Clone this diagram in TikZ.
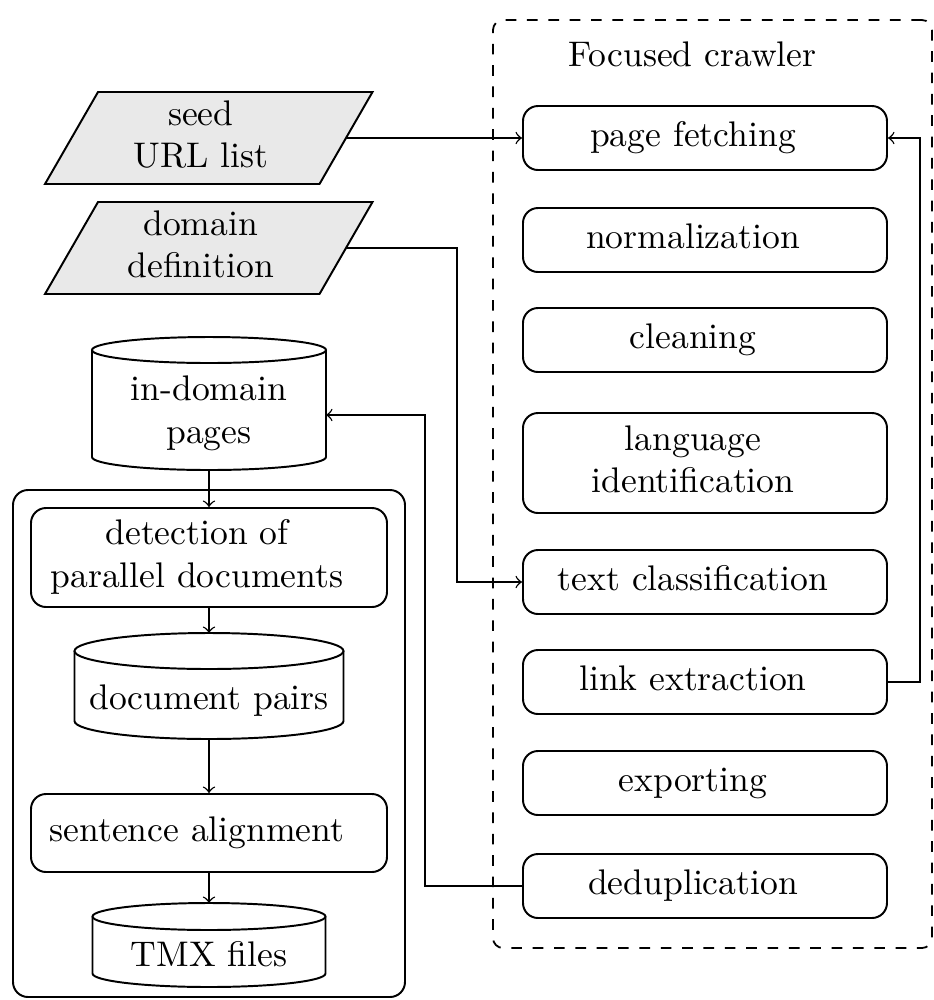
\documentclass[tikz,border=0pt]{standalone}
\usetikzlibrary{backgrounds}
\newdimen\pxu \pxu=0.281pt
\newcommand{\boxtxt}[1]{\begin{tabular}{@{}c@{}}#1\end{tabular}\hspace*{24\pxu}}
\newcommand{\partxt}[1]{\begin{tabular}{@{}c@{}}#1\end{tabular}\hspace*{16\pxu}}
\newcommand{\plaintxt}[1]{\begin{tabular}{@{}c@{}}#1\end{tabular}}
\definecolor{parafill}{RGB}{233,233,233}
\begin{document}
\begin{tikzpicture}[x=0.281pt, y=-0.281pt,
  rbox/.style={draw, line width=0.55pt, rounded corners=15\pxu, minimum width=364\pxu, minimum height=64\pxu, inner sep=0pt},
  lbox/.style={draw, line width=0.55pt, rounded corners=15\pxu, minimum width=356\pxu, inner sep=0pt},
  shp/.style={inner sep=0pt, outer sep=0pt},
  cyl/.style={line width=0.55pt},
  para/.style={draw, line width=0.55pt, fill=parafill},
  conn/.style={->, line width=0.4pt},
  frame/.style={draw, line width=0.55pt, rounded corners=15\pxu, inner sep=0pt},
  dframe/.style={draw, dashed, line width=0.5pt, rounded corners=10\pxu, inner sep=0pt}]
\useasboundingbox (0,0) rectangle (934,1000);

% containers
\node[dframe, minimum width=439\pxu, minimum height=928\pxu] (crawler) at (712.5,484) {};
\node[anchor=base] (crawlertitle) at (692.5,66) {Focused crawler};
\node[frame, minimum width=392\pxu, minimum height=507\pxu] (aligner) at (209,743.5) {};

% focused crawler steps
\node[rbox] (fetch) at (705,138) {\boxtxt{page fetching}};
\node[rbox] (norm) at (705,240) {\boxtxt{normalization}};
\node[rbox] (clean) at (705,340) {\boxtxt{cleaning}};
\node[rbox, minimum height=100\pxu] (langid) at (705,463) {\boxtxt{language\\identification}};
\node[rbox] (textcls) at (705,582) {\boxtxt{text classification}};
\node[rbox] (link) at (705,682) {\boxtxt{link extraction}};
\node[rbox] (export) at (705,783) {\boxtxt{exporting}};
\node[rbox] (dedup) at (705,886) {\boxtxt{deduplication}};

% inputs
\node[shp, minimum width=274.5\pxu, minimum height=92\pxu] (seed) at (208.75,138) {\partxt{seed\\URL list}};
\node[shp, minimum width=274.5\pxu, minimum height=92\pxu] (domain) at (208.75,248) {\partxt{domain\\definition}};
\begin{scope}[on background layer]
\draw[para] ([xshift=26.5\pxu]seed.north west) -- ([xshift=26.5\pxu]seed.north east) -- ([xshift=-26.5\pxu]seed.south east) -- ([xshift=-26.5\pxu]seed.south west) -- cycle;
\draw[para] ([xshift=26.5\pxu]domain.north west) -- ([xshift=26.5\pxu]domain.north east) -- ([xshift=-26.5\pxu]domain.south east) -- ([xshift=-26.5\pxu]domain.south west) -- cycle;
\end{scope}

% in-domain pages (cylinder)
\node[shp, minimum width=234\pxu, minimum height=133\pxu] (indomain) at (209,403.5) {};
\draw[cyl] (92,350) -- (92,457) arc[start angle=180, end angle=360, x radius=117\pxu, y radius=13\pxu] -- (326,350);
\draw[cyl] (209,350) ellipse[x radius=117\pxu, y radius=13\pxu];
\node (indomainlbl) at (209,413.5) {\plaintxt{in-domain\\pages}};

% parallel detection
\node[lbox, minimum height=99\pxu] (detect) at (209,557.5) {\boxtxt{detection of\\parallel documents}};

% document pairs (cylinder)
\node[shp, minimum width=269\pxu, minimum height=106\pxu] (docpairs) at (209,686) {};
\draw[cyl] (74.5,651) -- (74.5,721) arc[start angle=180, end angle=360, x radius=134.5\pxu, y radius=18\pxu] -- (343.5,651);
\draw[cyl] (209,651) ellipse[x radius=134.5\pxu, y radius=18\pxu];
\node (docpairslbl) at (209,701) {\plaintxt{document pairs}};

% sentence alignment
\node[lbox, minimum height=78\pxu] (sentalign) at (209,833) {\boxtxt{sentence alignment}};

% TMX files (cylinder)
\node[shp, minimum width=233\pxu, minimum height=84\pxu] (tmx) at (209,945) {};
\draw[cyl] (92.5,916.5) -- (92.5,973.5) arc[start angle=180, end angle=360, x radius=116.5\pxu, y radius=13.5\pxu] -- (325.5,916.5);
\draw[cyl] (209,916.5) ellipse[x radius=116.5\pxu, y radius=13.5\pxu];
\node (tmxlbl) at (209,958) {\plaintxt{TMX files}};

% connectors
\coordinate (dombend) at (457,248);
\coordinate (dedupbend) at (425,415);
\coordinate (linkbend) at (920,682);
\draw[conn] (seed.east) -- (fetch.west);
\draw[conn] (domain.east) -- (dombend) |- (textcls.west);
\draw[conn] (dedup.west) -| (dedupbend) -- (indomain.east |- dedupbend);
\draw[conn] (link.east) -- (linkbend) |- (fetch.east);
\draw[conn] (indomain.south) -- (detect.north);
\draw[conn] (detect.south) -- (docpairs.north);
\draw[conn] (docpairs.south) -- (sentalign.north);
\draw[conn] (sentalign.south) -- (tmx.north);
\end{tikzpicture}
\end{document}
